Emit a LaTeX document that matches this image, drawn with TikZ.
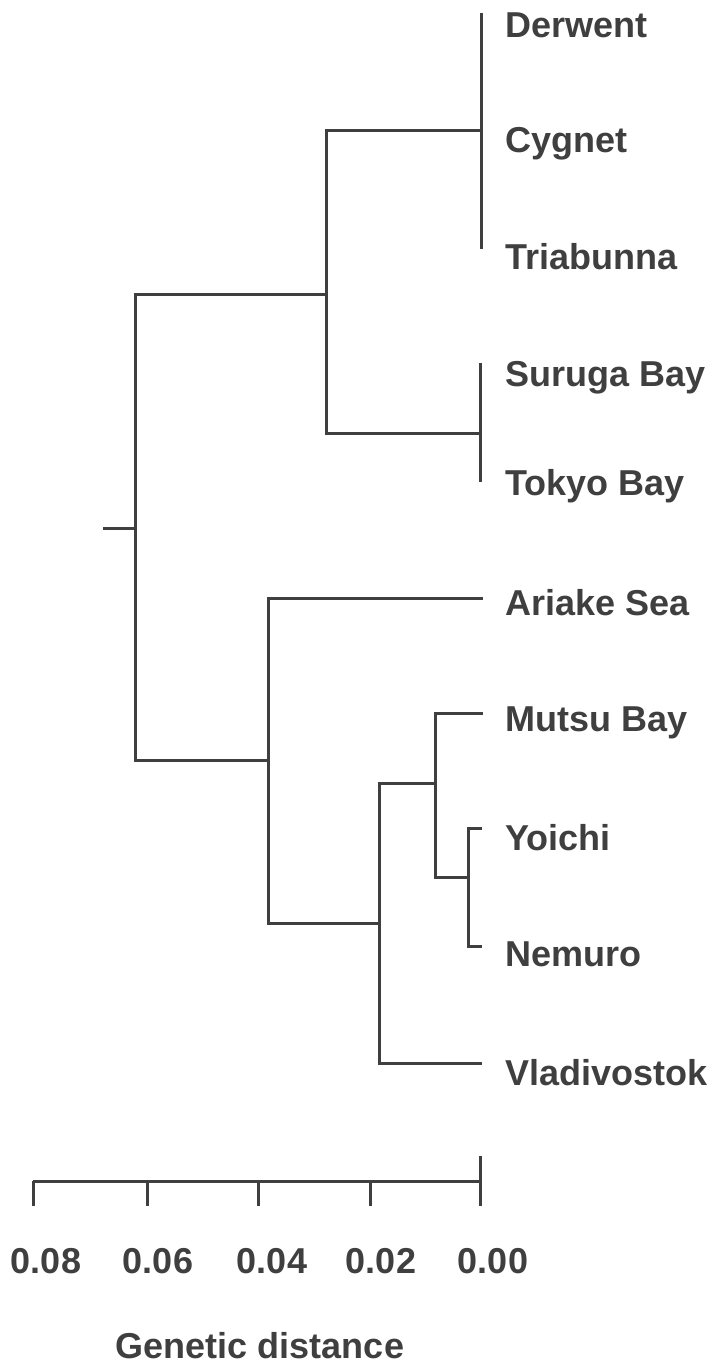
\documentclass[tikz,border=0pt]{standalone}
\usepackage{fontspec}
\setmainfont{Liberation Sans}
\definecolor{ink}{HTML}{3F3F3F}
\begin{document}
\begin{tikzpicture}[x=1pt,y=-1pt,
  branch/.style={draw=ink,line width=3pt,line cap=butt,line join=miter},
  leaflabel/.style={anchor=base west,inner sep=0pt,text=ink,font=\fontsize{36}{40}\selectfont\bfseries},
  ticklabel/.style={anchor=base,inner sep=0pt,text=ink,font=\fontsize{36}{40}\selectfont\bfseries},
  axistitle/.style={anchor=base,inner sep=0pt,text=ink,font=\fontsize{36}{40}\selectfont\bfseries}]
\useasboundingbox (0,0) rectangle (715,1371);

% ---- tree coordinates (x grows to the right, y grows downward) ----
\coordinate (tasTop) at (481,13);
\coordinate (tasBot) at (481,249);
\coordinate (tasJ)   at (481,130);
\coordinate (jpTop)  at (480,363);
\coordinate (jpBot)  at (480,482);
\coordinate (jpJ)    at (480,433);
\coordinate (n1)     at (326,294);
\coordinate (root)   at (135,528);
\coordinate (stub)   at (103,528);
\coordinate (n2)     at (268,760);
\coordinate (ariake) at (483,598);
\coordinate (n3)     at (379,923);
\coordinate (n4)     at (435,783);
\coordinate (mutsu)  at (483,713);
\coordinate (n5)     at (468,877);
\coordinate (yoichi) at (482,828);
\coordinate (nemuro) at (482,946);
\coordinate (vlad)   at (482,1063);

% ---- branches ----
\draw[branch] (tasTop) -- (tasBot);
\draw[branch] (jpTop) -- (jpBot);
\draw[branch] (tasJ) -| (n1) |- (jpJ);
\draw[branch] (n1) -| (root) |- (n2);
\draw[branch] (stub) -- (root);
\draw[branch] (ariake) -| (n2) |- (n3);
\draw[branch] (n4) -| (n3) |- (vlad);
\draw[branch] (mutsu) -| (n4) |- (n5);
\draw[branch] (yoichi) -| (n5) |- (nemuro);

% ---- leaf labels ----
\node[leaflabel] (lDerwent)   at (505,37)   {Derwent};
\node[leaflabel] (lCygnet)    at (505,152)  {Cygnet};
\node[leaflabel] (lTriabunna) at (505,269)  {Triabunna};
\node[leaflabel] (lSuruga)    at (505,386)  {Suruga Bay};
\node[leaflabel] (lTokyo)     at (505,495)  {Tokyo Bay};
\node[leaflabel] (lAriake)    at (505,615)  {Ariake Sea};
\node[leaflabel] (lMutsu)     at (505,731)  {Mutsu Bay};
\node[leaflabel] (lYoichi)    at (505,850)  {Yoichi};
\node[leaflabel] (lNemuro)    at (505,966)  {Nemuro};
\node[leaflabel] (lVlad)      at (505,1085) {Vladivostok};

% ---- distance scale ----
\coordinate (s8) at (33,1181);
\coordinate (s6) at (147,1181);
\coordinate (s4) at (258,1181);
\coordinate (s2) at (370,1181);
\coordinate (s0) at (480,1181);
\coordinate (s0top) at (480,1156);
\draw[branch] (s8) -- (s0);
\foreach \t in {s8,s6,s4,s2}{\draw[branch] (\t) -- ++(0,25);}
\draw[branch] (s0top) -- ++(0,50);

\node[ticklabel] (t8) at (46,1273)  {0.08};
\node[ticklabel] (t6) at (158,1273) {0.06};
\node[ticklabel] (t4) at (272,1273) {0.04};
\node[ticklabel] (t2) at (381,1273) {0.02};
\node[ticklabel] (t0) at (493,1273) {0.00};
\node[axistitle] (title) at (260,1358) {Genetic distance};
\end{tikzpicture}
\end{document}
